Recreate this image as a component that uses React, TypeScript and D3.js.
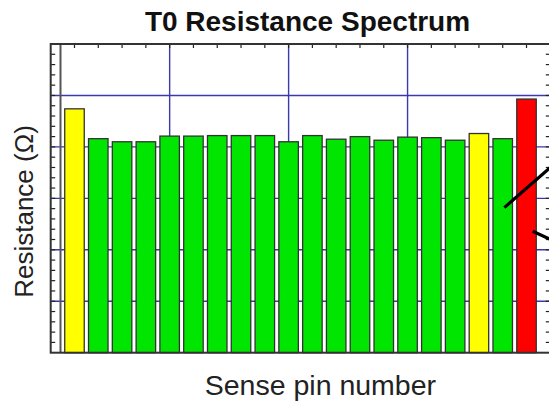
import React from "react";
import * as d3 from "d3";

// Resistance per sense pin (Ω) and its status class
const pins = d3.range(1, 21);
const resistance = [
  4.74, 4.16, 4.1, 4.1, 4.21, 4.21, 4.22, 4.22, 4.22, 4.1,
  4.22, 4.15, 4.2, 4.13, 4.19, 4.18, 4.13, 4.26, 4.16, 4.93,
];
const status = [
  "warn", "ok", "ok", "ok", "ok", "ok", "ok", "ok", "ok", "ok",
  "ok", "ok", "ok", "ok", "ok", "ok", "ok", "warn", "ok", "fail",
];
const statusColor: Record<string, string> = {
  ok: "#00E600",
  warn: "#FFFF00",
  fail: "#FF0000",
};
// Pointer lines running off the right edge, in data units [x1, y1, x2, y2]
const pointers = [
  [19.07, 2.82, 21.5, 3.8],
  [20.26, 2.36, 21.5, 2.1],
];
const xGrid = [5, 10, 15];
const yGrid = [1, 2, 3, 4, 5];

const W = 549;
const H = 401;
const left = 50.7;
const right = 550.3;
const top = 44;
const bottom = 352.7;

export default function App() {
  const x = d3.scaleLinear().domain([0, 21]).range([left, right]);
  const y = d3.scaleLinear().domain([0, 6]).range([bottom, top]);
  const barW = x(0.82) - x(0);
  const minorY = d3.range(0.2, 6, 0.2);
  const gridColor = "#3A3AA8";

  return (
    <div style={{ position: "absolute", left: 0, top: 0 }}>
      <svg width={W} height={H} style={{ display: "block" }} fontFamily="'Liberation Sans', Arial, sans-serif">
        <rect width={W} height={H} fill="#fff" />
        <text x={307.5} y={31} textAnchor="middle" fontSize={28} fontWeight="bold" fill="#111">
          T0 Resistance Spectrum
        </text>
        {/* grid */}
        {yGrid.map((v) => (
          <line key={"gy" + v} x1={left} x2={right} y1={y(v)} y2={y(v)} stroke={gridColor} strokeWidth={1.4} />
        ))}
        {xGrid.map((v) => (
          <line key={"gx" + v} x1={x(v)} x2={x(v)} y1={top} y2={bottom} stroke={gridColor} strokeWidth={1.4} />
        ))}
        {/* inner axis line */}
        <line x1={60.5} x2={60.5} y1={top} y2={bottom} stroke="#555" strokeWidth={2} />
        {/* bars */}
        {pins.map((p, i) => (
          <rect
            key={p}
            x={x(p) - barW / 2}
            y={y(resistance[i])}
            width={barW}
            height={y(0) - y(resistance[i])}
            fill={statusColor[status[i]]}
            stroke="#333"
            strokeWidth={1.3}
          />
        ))}
        {/* ticks */}
        {minorY.map((v) => (
          <g key={"t" + v}>
            <line x1={left} x2={left + 4.5} y1={y(v)} y2={y(v)} stroke="#222" strokeWidth={1.2} />
            <line x1={right - 4.5} x2={right} y1={y(v)} y2={y(v)} stroke="#222" strokeWidth={1.2} />
          </g>
        ))}
        {pins.map((p) => (
          <line key={"tt" + p} x1={x(p)} x2={x(p)} y1={top} y2={top + 4} stroke="#222" strokeWidth={1.2} />
        ))}
        {/* frame */}
        <rect x={left} y={top} width={right - left} height={bottom - top} fill="none" stroke="#333" strokeWidth={2} />
        {/* pointer lines */}
        {pointers.map((l, i) => (
          <line key={"p" + i} x1={x(l[0])} y1={y(l[1])} x2={x(l[2])} y2={y(l[3])} stroke="#000" strokeWidth={3.2} />
        ))}
        <text
          transform={`translate(33, 211.5) rotate(-90)`}
          textAnchor="middle"
          fontSize={26}
          fill="#222"
        >
          Resistance (Ω)
        </text>
        <text x={320.4} y={395} textAnchor="middle" fontSize={28.5} fill="#222">
          Sense pin number
        </text>
      </svg>
    </div>
  );
}
